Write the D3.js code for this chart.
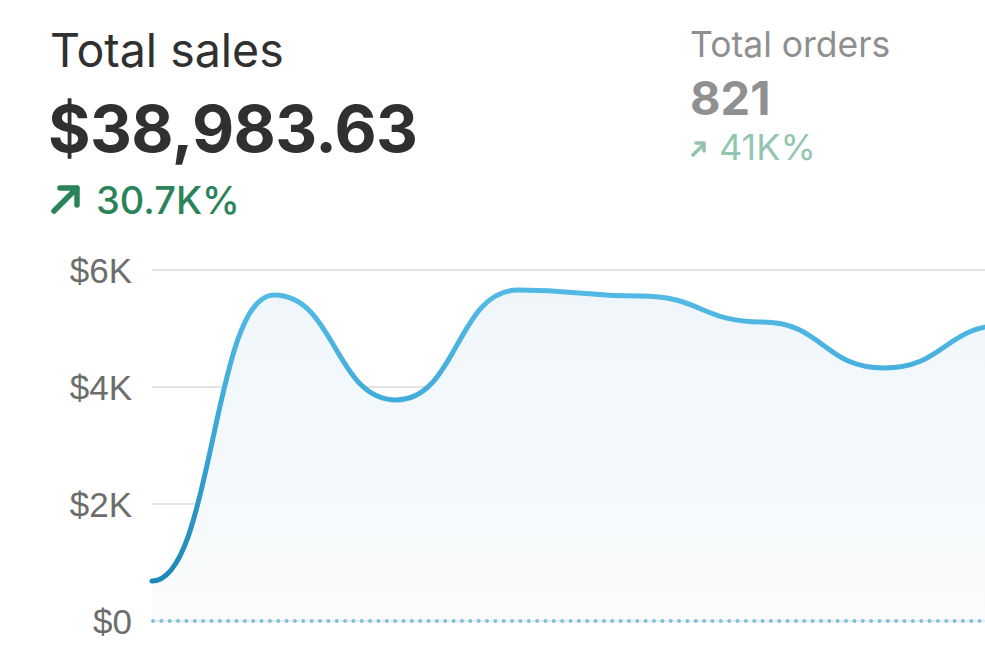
<!DOCTYPE html>
<html>
<head>
<meta charset="utf-8">
<script src="https://cdn.jsdelivr.net/npm/d3@7"></script>
<style>
  html, body { margin: 0; padding: 0; background: #fff; overflow: hidden; }
  svg { display: block; font-family: Inter, "Noto Sans", sans-serif; }
</style>
</head>
<body>
<svg id="chart" width="985" height="668"></svg>
<script>
// points along the x axis (dates are cut off in the picture)
const periods = ["p1", "p2", "p3", "p4", "p5", "p6", "p7", "p8"];
const sales = [684, 5573, 3778, 5658, 5556, 5111, 4325, 5060];
const yTicks = [0, 2000, 4000, 6000];

const salesTitle = "Total sales";
const salesTotal = "$38,983.63";
const salesChange = "30.7K%";
const ordersTitle = "Total orders";
const ordersTotal = "821";
const ordersChange = "41K%";

const svg = d3.select("#chart"),
    width = +svg.attr("width"),
    height = +svg.attr("height");

// plot runs past the right edge of the screenshot
const x = d3.scalePoint()
    .domain(periods)
    .range([152, 1006]);

const y = d3.scaleLinear()
    .domain([0, 6000])
    .range([621, 270]);

const defs = svg.append("defs");

const lineGrad = defs.append("linearGradient")
    .attr("id", "lineGrad")
    .attr("gradientUnits", "userSpaceOnUse")
    .attr("x1", 0).attr("x2", 0)
    .attr("y1", y(0)).attr("y2", y(5500));
lineGrad.append("stop").attr("offset", "0%").attr("stop-color", "#157eae");
lineGrad.append("stop").attr("offset", "55%").attr("stop-color", "#3aa6d6");
lineGrad.append("stop").attr("offset", "100%").attr("stop-color", "#52b9e4");

const areaGrad = defs.append("linearGradient")
    .attr("id", "areaGrad")
    .attr("gradientUnits", "userSpaceOnUse")
    .attr("x1", 0).attr("x2", 0)
    .attr("y1", y(0)).attr("y2", y(5700));
areaGrad.append("stop").attr("offset", "0%").attr("stop-color", "#fafbfc");
areaGrad.append("stop").attr("offset", "100%").attr("stop-color", "#eff6fa");

// Header
const header = svg.append("g");

header.append("text")
    .attr("x", 50).attr("y", 67)
    .attr("font-size", 46.5)
    .attr("fill", "#303030")
    .text(salesTitle);

header.append("text")
    .attr("x", 48).attr("y", 152)
    .attr("font-size", 65)
    .attr("font-weight", 700)
    .attr("letter-spacing", -0.6)
    .attr("fill", "#303030")
    .text(salesTotal);

// arrow up-right
header.append("path")
    .attr("d", "M54,211 L77,188 M60,188 L77,188 L77,205")
    .attr("fill", "none")
    .attr("stroke", "#2b8359")
    .attr("stroke-width", 5.5)
    .attr("stroke-linecap", "round")
    .attr("stroke-linejoin", "round");

header.append("text")
    .attr("x", 96).attr("y", 214)
    .attr("font-size", 38)
    .attr("font-weight", 500)
    .attr("fill", "#2b8359")
    .text(salesChange);

header.append("text")
    .attr("x", 690).attr("y", 57)
    .attr("font-size", 35.5)
    .attr("fill", "#8f8f8f")
    .text(ordersTitle);

header.append("text")
    .attr("x", 690).attr("y", 115)
    .attr("font-size", 47)
    .attr("font-weight", 700)
    .attr("fill", "#909090")
    .text(ordersTotal);

header.append("path")
    .attr("d", "M693,155 L704,144 M696,143 L704,143 L704,151")
    .attr("fill", "none")
    .attr("stroke", "#8fc4ab")
    .attr("stroke-width", 3.5)
    .attr("stroke-linecap", "round")
    .attr("stroke-linejoin", "round");

header.append("text")
    .attr("x", 719).attr("y", 160)
    .attr("font-size", 36)
    .attr("fill", "#93c6ae")
    .text(ordersChange);

// Grid lines
const grid = svg.append("g");

grid.selectAll("line.grid")
    .data(yTicks.filter(d => d > 0))
    .enter().append("line")
    .attr("class", "grid")
    .attr("x1", 152).attr("x2", width)
    .attr("y1", d => y(d)).attr("y2", d => y(d))
    .attr("stroke", "#e3e3e3")
    .attr("stroke-width", 2);

// Y axis labels
svg.append("g")
    .selectAll("text")
    .data(yTicks)
    .enter().append("text")
    .attr("x", 132)
    .attr("y", d => y(d))
    .attr("dy", "0.36em")
    .attr("text-anchor", "end")
    .attr("font-family", "'Liberation Sans', Arial, sans-serif")
    .attr("font-size", 35)
    .attr("fill", "#6d6d6d")
    .text(d => d === 0 ? "$0" : "$" + d / 1000 + "K");

// Area + line
const area = d3.area()
    .x((d, i) => x(periods[i]))
    .y0(y(0))
    .y1(d => y(d))
    .curve(d3.curveBumpX);

const line = d3.line()
    .x((d, i) => x(periods[i]))
    .y(d => y(d))
    .curve(d3.curveBumpX);

svg.append("path")
    .datum(sales)
    .attr("d", area)
    .attr("fill", "url(#areaGrad)");

// zero line: faint line with dots, drawn over the area
svg.append("line")
    .attr("x1", 152).attr("x2", width)
    .attr("y1", y(0)).attr("y2", y(0))
    .attr("stroke", "#e4edf2")
    .attr("stroke-width", 2);

svg.append("line")
    .attr("x1", 153).attr("x2", width)
    .attr("y1", y(0)).attr("y2", y(0))
    .attr("stroke", "#86bfdb")
    .attr("stroke-width", 4)
    .attr("stroke-linecap", "round")
    .attr("stroke-dasharray", "0 8.35");

svg.append("path")
    .datum(sales)
    .attr("d", line)
    .attr("fill", "none")
    .attr("stroke", "url(#lineGrad)")
    .attr("stroke-width", 5)
    .attr("stroke-linecap", "round");
</script>
</body>
</html>
